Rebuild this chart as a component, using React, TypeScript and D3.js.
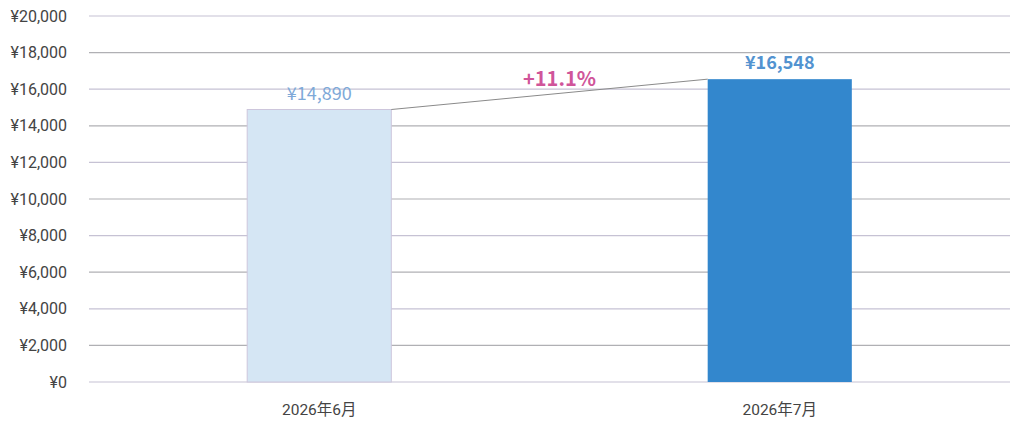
import { useEffect, useRef } from "react";
import * as d3 from "d3";

const months = ["2026年6月", "2026年7月"];
const sales = [14890, 16548];
const yTicks = [0, 2000, 4000, 6000, 8000, 10000, 12000, 14000, 16000, 18000, 20000];
const changeLabel = "+11.1%";

const W = 1024,
  H = 429;
const margin = { top: 16, right: 14, bottom: 47, left: 89 };
const innerW = W - margin.left - margin.right;
const innerH = H - margin.top - margin.bottom;

const barFill = ["#d5e6f4", "#3387cd"];
const labelFill = ["#7ea9d8", "#5393d0"];
const font = "'Noto Sans CJK JP', 'Noto Sans', sans-serif";
const axisFont = "Roboto, 'Noto Sans CJK JP', sans-serif";

export default function App() {
  const ref = useRef<SVGSVGElement | null>(null);

  useEffect(() => {
    const svg = d3.select(ref.current);
    svg.selectAll("*").remove();
    const g = svg
      .append("g")
      .attr("transform", "translate(" + margin.left + "," + margin.top + ")");

    const x = d3.scaleBand().domain(months).range([0, innerW]).padding(0);
    const y = d3.scaleLinear().domain([0, 20000]).range([innerH, 0]);
    const barW = x.bandwidth() * 0.313;

    // gridlines
    g.selectAll("line.grid")
      .data(yTicks)
      .join("line")
      .attr("class", "grid")
      .attr("x1", 0)
      .attr("x2", innerW)
      .attr("y1", (d) => y(d))
      .attr("y2", (d) => y(d))
      .attr("stroke", (d) => (d % 4000 === 0 ? "#c6c2d4" : "#b0b0b4"))
      .attr("stroke-width", 1.2);

    // y labels
    g.selectAll("text.ylab")
      .data(yTicks)
      .join("text")
      .attr("class", "ylab")
      .attr("x", -22)
      .attr("y", (d) => y(d))
      .attr("dy", "0.35em")
      .attr("text-anchor", "end")
      .attr("font-family", axisFont)
      .attr("font-size", 16)
      .attr("fill", "#444")
      .text((d) => "¥" + d3.format(",")(d));

    // bars
    g.selectAll("rect.bar")
      .data(sales)
      .join("rect")
      .attr("class", "bar")
      .attr("x", (_, i) => x(months[i])! + x.bandwidth() / 2 - barW / 2)
      .attr("y", (d) => y(d))
      .attr("width", barW)
      .attr("height", (d) => innerH - y(d))
      .attr("fill", (_, i) => barFill[i])
      .attr("stroke", (_, i) => (i === 0 ? "#cdc6dc" : "none"))
      .attr("stroke-width", 1);

    // connector line between bar tops
    const x0 = x(months[0])! + x.bandwidth() / 2 + barW / 2;
    const x1 = x(months[1])! + x.bandwidth() / 2 - barW / 2;
    g.append("line")
      .attr("x1", x0)
      .attr("y1", y(sales[0]))
      .attr("x2", x1)
      .attr("y2", y(sales[1]))
      .attr("stroke", "#8a8a8a")
      .attr("stroke-width", 1);

    g.append("text")
      .attr("x", (x0 + x1) / 2 + 10)
      .attr("y", y(sales[1]) - 9 + 16)
      .attr("text-anchor", "middle")
      .attr("font-family", font)
      .attr("font-size", 20)
      .attr("font-weight", "bold")
      .attr("fill", "#d0559a")
      .text(changeLabel);

    // value labels
    g.selectAll("text.val")
      .data(sales)
      .join("text")
      .attr("class", "val")
      .attr("x", (_, i) => x(months[i])! + x.bandwidth() / 2)
      .attr("y", (d) => y(d) - 10)
      .attr("text-anchor", "middle")
      .attr("font-family", font)
      .attr("font-size", 18)
      .attr("font-weight", (_, i) => (i === 1 ? "bold" : "normal"))
      .attr("fill", (_, i) => labelFill[i])
      .text((d) => "¥" + d3.format(",")(d));

    // x labels
    g.selectAll("text.xlab")
      .data(months)
      .join("text")
      .attr("class", "xlab")
      .attr("x", (d) => x(d)! + x.bandwidth() / 2)
      .attr("y", innerH + 33)
      .attr("text-anchor", "middle")
      .attr("font-family", axisFont)
      .attr("font-size", 15.5)
      .attr("fill", "#444")
      .text((d) => d);
  }, []);

  return (
    <svg
      ref={ref}
      width={W}
      height={H}
      style={{ position: "absolute", left: 0, top: 0, background: "#fff" }}
    />
  );
}
